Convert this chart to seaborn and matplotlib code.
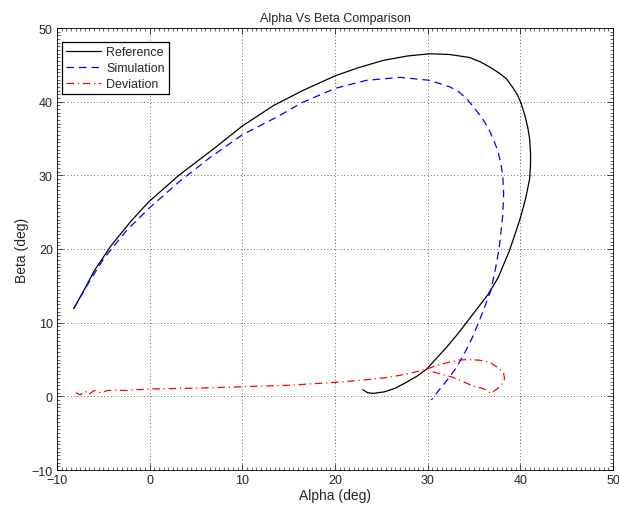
import matplotlib
matplotlib.use("Agg")
import matplotlib.pyplot as plt
from matplotlib.ticker import MultipleLocator
import seaborn as sns
import pandas as pd

# Reference trajectory (alpha, beta) in deg
ref_alpha = [-8.2, -7.0, -6.0, -4.2, -2.0, -0.1, 3.15, 6.9, 10.0, 13.4, 16.5, 20.0, 22.5, 25.2,
             27.8, 30.2, 32.4, 34.5, 35.7, 36.7, 37.7, 38.5, 39.2, 39.7, 40.1, 40.5, 40.8,
             41.0, 41.1, 41.1, 41.0, 40.6, 40.0, 39.4, 38.8, 37.6, 36.5, 35.4, 34.3, 33.2,
             32.0, 30.9, 29.9, 28.8, 27.7, 26.5, 25.3, 24.1, 23.5, 23.0]
ref_beta = [11.9, 14.6, 17.0, 20.4, 23.8, 26.4, 30.0, 33.6, 36.7, 39.5, 41.5, 43.5, 44.6, 45.6,
            46.2, 46.5, 46.4, 46.0, 45.4, 44.7, 43.9, 43.1, 41.9, 40.9, 39.7, 38.1, 36.5,
            35.0, 33.0, 31.4, 29.5, 27.0, 24.2, 21.9, 19.7, 16.1, 13.8, 12.0, 10.2, 8.4,
            6.6, 5.1, 3.7, 2.7, 1.9, 1.1, 0.6, 0.4, 0.5, 0.9]

# Simulation trajectory
sim_alpha = [-8.2, -6.5, -4.9, -2.5, -0.1, 3.15, 6.6, 10.0, 13.7, 16.5, 20.0, 23.4, 27.0,
             30.2, 32.4, 33.3, 34.2, 35.0, 35.8, 36.5, 37.1, 37.6, 37.9, 38.1, 38.2, 38.1,
             37.9, 37.7, 37.3, 36.8, 35.9, 34.9, 34.0, 33.1, 32.1, 31.2, 30.4]
sim_beta = [11.9, 15.6, 18.8, 22.5, 25.5, 29.1, 32.5, 35.5, 37.9, 39.9, 41.8, 42.9, 43.3,
            42.9, 42.0, 41.4, 40.4, 39.2, 37.9, 36.5, 34.9, 33.2, 31.6, 30.0, 27.5, 24.5,
            22.2, 20.0, 17.2, 14.3, 11.3, 8.2, 5.9, 3.9, 2.2, 0.8, -0.5]

# Deviation curve
dev_alpha = [-7.96, -7.5, -7.0, -6.5, -6.0, -5.3, -4.5, -2.5, -0.1, 5.0, 10.0, 15.0, 20.0,
             23.0, 25.9, 28.0, 29.9, 31.0, 32.2, 33.3, 34.3, 35.6, 36.7, 37.6, 38.2, 38.3,
             38.0, 37.5, 36.8, 36.1, 34.9, 33.8, 32.7, 31.8, 30.9, 30.2]
dev_beta = [0.5, 0.2, 0.7, 0.3, 0.8, 0.5, 0.8, 0.8, 1.0, 1.1, 1.3, 1.5, 1.9,
            2.2, 2.6, 3.1, 3.7, 4.2, 4.6, 4.9, 5.0, 4.9, 4.6, 3.9, 3.1, 2.4,
            1.6, 1.0, 0.4, 1.0, 1.4, 2.0, 2.6, 2.9, 3.2, 3.5]

x_ticks = [-10, 0, 10, 20, 30, 40, 50]
y_ticks = [-10, 0, 10, 20, 30, 40, 50]

sns.set_style("ticks")
plt.rcParams['font.family'] = ['Liberation Sans', 'DejaVu Sans']
plt.rcParams['xtick.direction'] = 'in'
plt.rcParams['ytick.direction'] = 'in'

fig = plt.figure(figsize=(6.19, 5.10), dpi=100)
ax = fig.add_axes([57/619, 1 - 471/510, (613-57)/619, (471-29)/510])

df_ref = pd.DataFrame({"alpha": ref_alpha, "beta": ref_beta})
df_sim = pd.DataFrame({"alpha": sim_alpha, "beta": sim_beta})
df_dev = pd.DataFrame({"alpha": dev_alpha, "beta": dev_beta})

sns.lineplot(data=df_ref, x="alpha", y="beta", sort=False, estimator=None, ax=ax,
             color="black", lw=0.9, label="Reference")
sns.lineplot(data=df_sim, x="alpha", y="beta", sort=False, estimator=None, ax=ax,
             color="blue", lw=0.9, label="Simulation", linestyle=(0, (6, 4)))
sns.lineplot(data=df_dev, x="alpha", y="beta", sort=False, estimator=None, ax=ax,
             color="red", lw=0.9, label="Deviation", linestyle=(0, (6, 3, 1, 3)))

ax.set_xlim(-10, 50)
ax.set_ylim(-10, 50)
ax.set_xticks(x_ticks)
ax.set_yticks(y_ticks)
ax.xaxis.set_minor_locator(MultipleLocator(0.5))
ax.yaxis.set_minor_locator(MultipleLocator(0.5))
ax.tick_params(axis="both", which="major", labelsize=9, length=4, width=0.6,
               top=True, right=True, pad=3)
ax.tick_params(axis="both", which="minor", length=2, width=0.5, top=True, right=True)
ax.grid(True, which="major", linestyle=(0, (1, 3)), color="#333333", linewidth=0.6)
for s in ax.spines.values():
    s.set_visible(True)
    s.set_linewidth(0.6)
    s.set_color("black")

ax.set_xlabel("Alpha (deg)", fontsize=10, labelpad=1)
ax.set_ylabel("Beta (deg)", fontsize=10, labelpad=2)
ax.set_title("Alpha Vs Beta Comparison", fontsize=9, pad=5)

leg = ax.legend(loc="upper left", bbox_to_anchor=(5/556, 1 - 14/442), borderaxespad=0,
                fontsize=9, frameon=True, fancybox=False, edgecolor="black",
                handlelength=2.8, labelspacing=0.3, handletextpad=0.4, borderpad=0.35)
leg.get_frame().set_linewidth(0.9)
leg.get_frame().set_alpha(1)

fig.savefig("out.png", dpi=100, facecolor="white")
